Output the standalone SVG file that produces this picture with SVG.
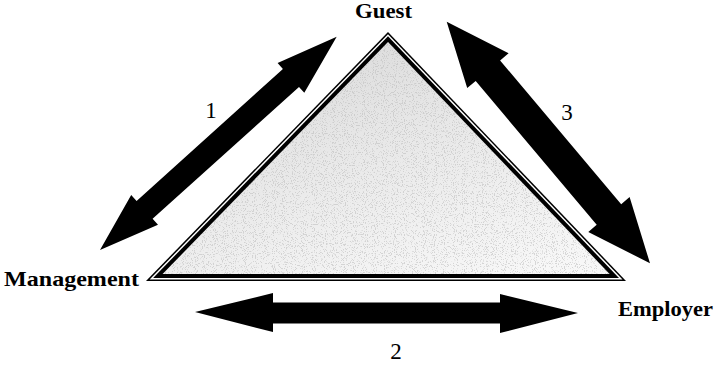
<svg xmlns="http://www.w3.org/2000/svg" width="717" height="367" viewBox="0 0 717 367">
<style>
.lbl{font-family:"Liberation Serif","Times New Roman",serif;font-weight:bold;font-size:21px;fill:#000}
.num{font-family:"Liberation Serif","Times New Roman",serif;font-size:23px;fill:#000;text-anchor:middle}
.arrow{fill:#000}
</style>
<defs>
<linearGradient id="g" x1="0.3" y1="0" x2="0.8" y2="1">
<stop offset="0" stop-color="#dcdcdc"/>
<stop offset="0.5" stop-color="#eaeaea"/>
<stop offset="1" stop-color="#f7f7f7"/>
</linearGradient>
<filter id="speck" x="0" y="0" width="1" height="1">
<feTurbulence type="fractalNoise" baseFrequency="0.9" numOctaves="2" seed="4" result="n"/>
<feColorMatrix in="n" type="matrix" values="0 0 0 0 0.5  0 0 0 0 0.5  0 0 0 0 0.5  10 0 0 0 -5.6" result="d"/>
<feComposite in="d" in2="SourceGraphic" operator="in"/>
</filter>
</defs>
<rect width="717" height="367" fill="#fff"/>
<g id="triangle">
<polygon points="388,32 146,281 626,281" fill="#000"/>
<polygon points="388,34.2 149.6,279.5 622.5,279.5" fill="#fff"/>
<polygon points="388,36.3 153.1,278 619,278" fill="#000"/>
<polygon points="388,42.1 162.6,274 609.6,274" fill="url(#g)"/>
<polygon points="388,42.1 162.6,274 609.6,274" fill="#000" opacity="0.55" filter="url(#speck)"/>
</g>
<g id="guest"><text class="lbl" x="355" y="18" textLength="57" lengthAdjust="spacingAndGlyphs">Guest</text></g>
<g id="management"><text class="lbl" x="4" y="286" textLength="135" lengthAdjust="spacingAndGlyphs">Management</text></g>
<g id="employer"><text class="lbl" x="618" y="316" textLength="95" lengthAdjust="spacingAndGlyphs">Employer</text></g>
<g id="connectors">
<polygon class="arrow" points="100,250 131.2,195 136.6,200.9 282.9,69 277.6,63.1 336.7,36.7 304.3,92.8 299,86.9 152.6,218.8 158,224.7"/>
<polygon class="arrow" points="195,312 273,293 273,302.5 500,302.5 500,294 578,313 500,333 500,323.5 273,323.5 273,332"/>
<polygon class="arrow" points="446.7,21.7 508.6,53.3 500.1,60.4 621.2,204.2 629.6,197.1 650,263.3 588.3,231.9 596.7,224.8 475.7,81 467.2,88.1"/>
<text class="num" x="211" y="118">1</text>
<text class="num" x="396" y="359">2</text>
<text class="num" x="567" y="120">3</text>
</g>
</svg>
